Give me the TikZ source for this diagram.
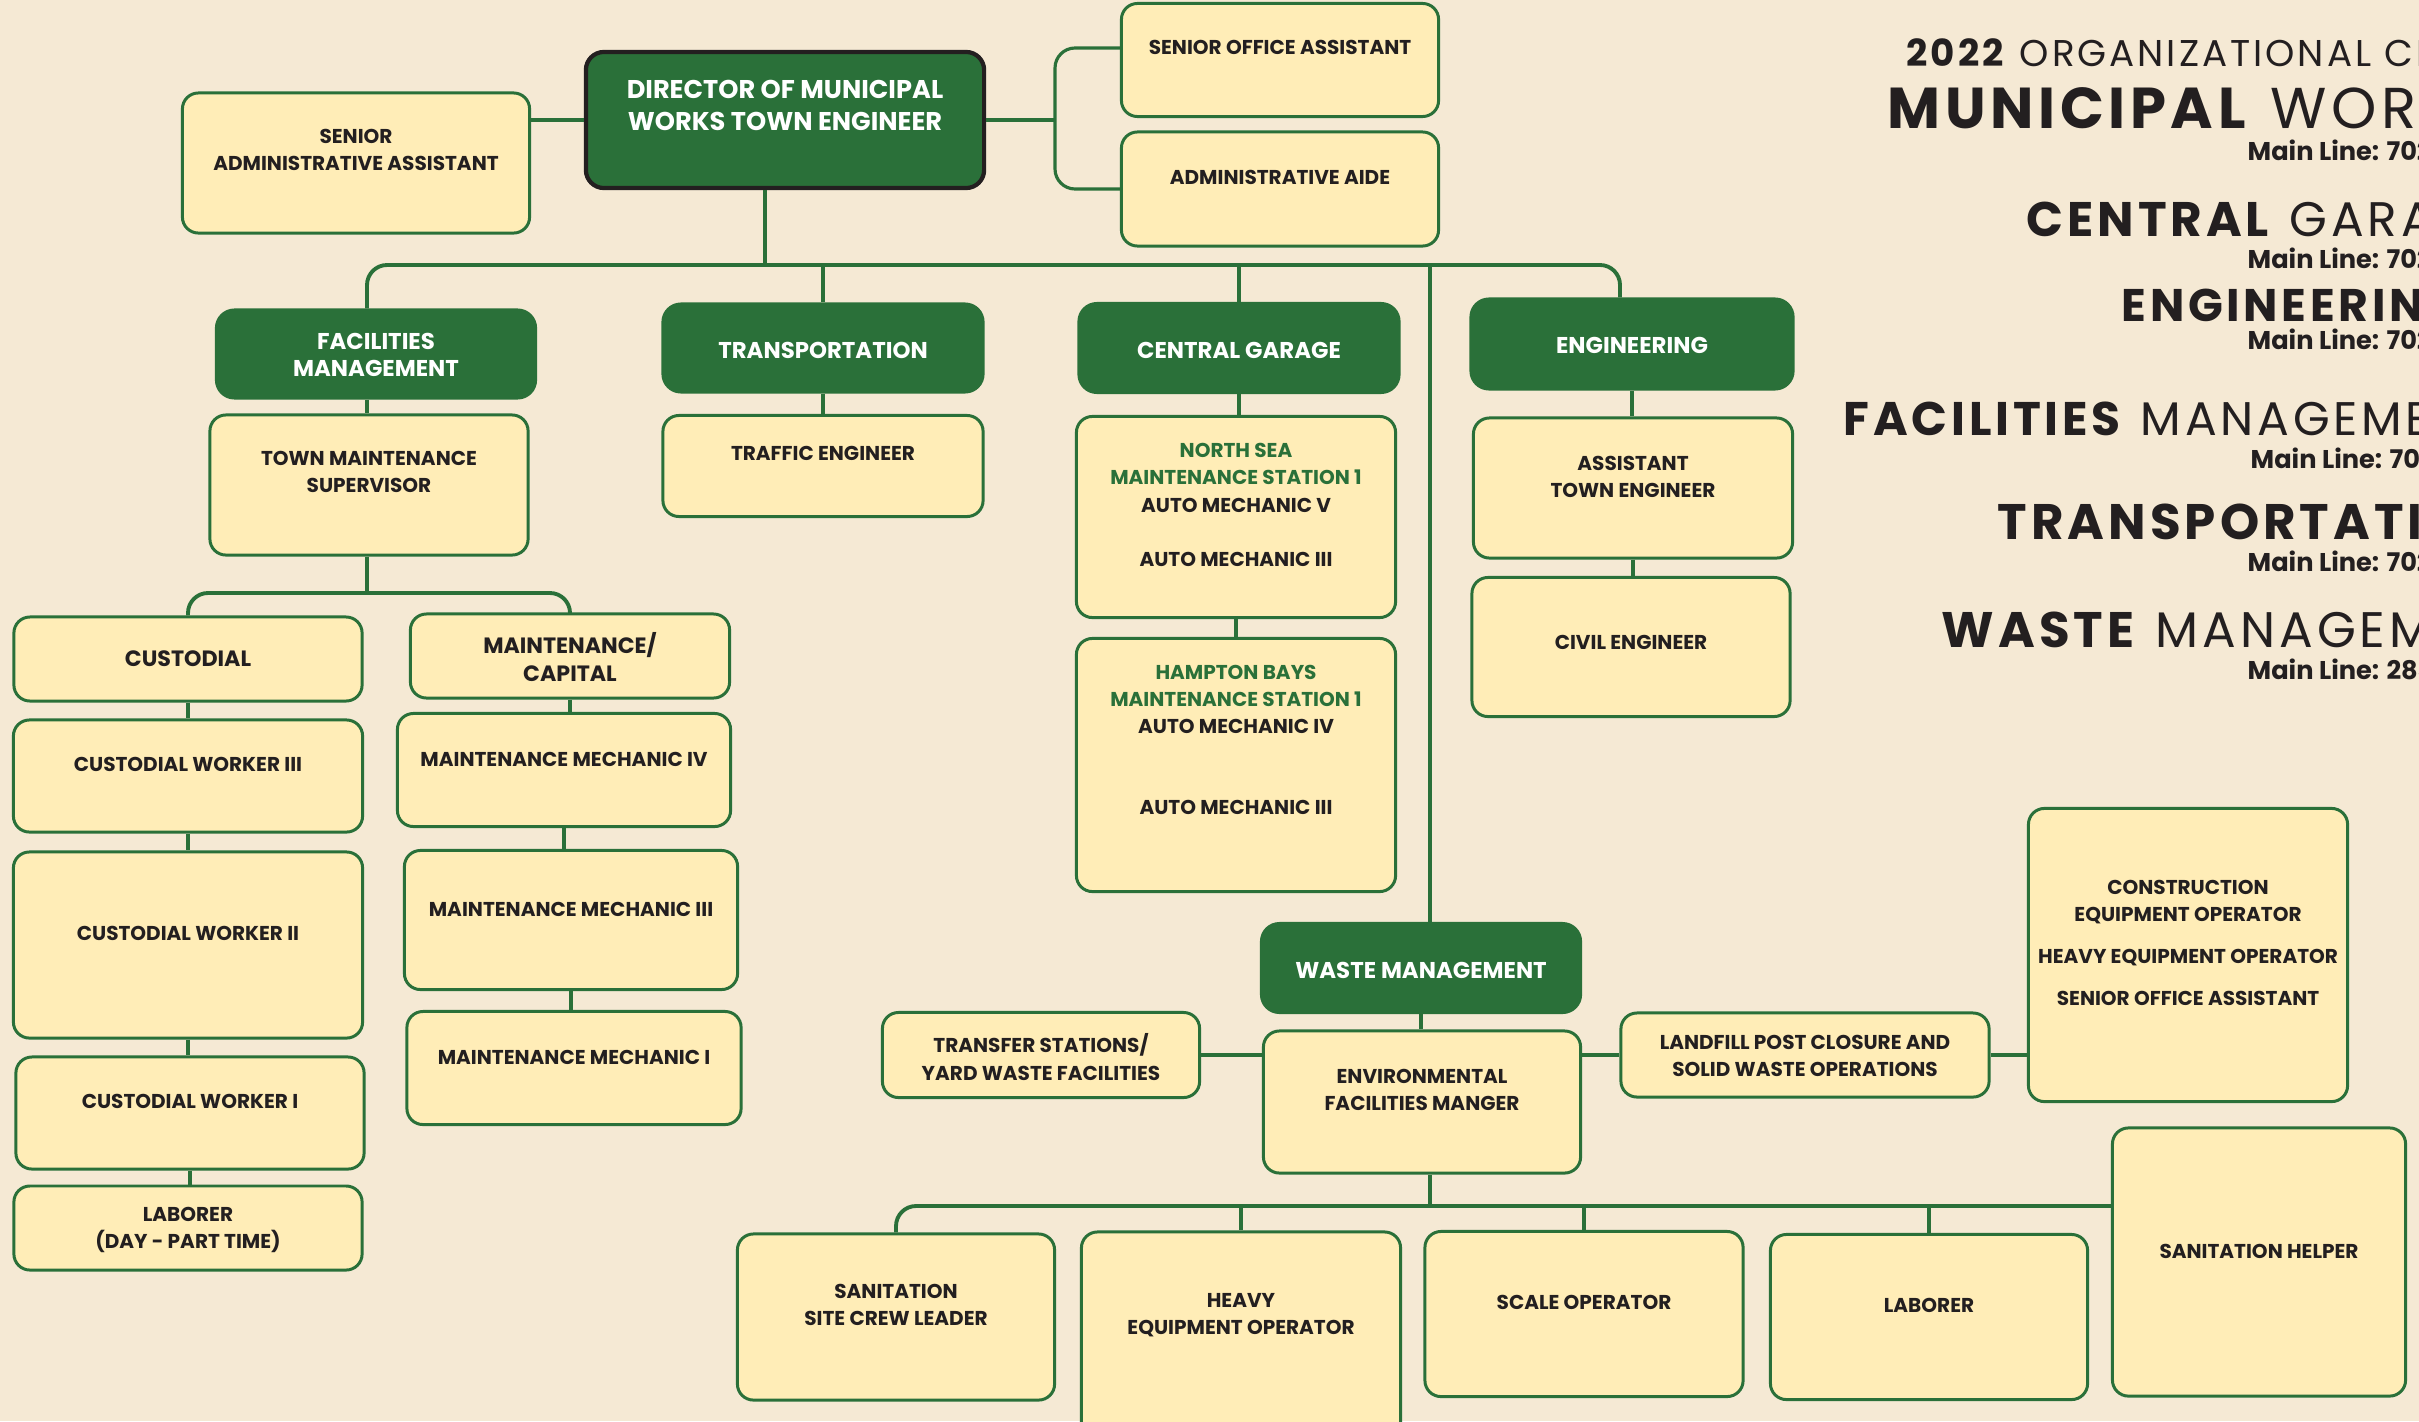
\documentclass[tikz,border=0pt]{standalone}
\usepackage{fontspec}
\setmainfont{Poppins}
\newfontfamily\titlefont[LetterSpace=8]{Poppins}
\definecolor{paper}{RGB}{245,233,212}
\definecolor{cream}{RGB}{255,237,183}
\definecolor{pine}{RGB}{42,112,57}
\definecolor{ink}{RGB}{35,31,32}
\tikzset{
  jobbox/.style={draw=pine, fill=cream, line width=0.85pt, rounded corners=0.16cm, inner sep=0pt},
  unitbox/.style={draw=pine, fill=pine, line width=0.85pt, rounded corners=0.18cm, inner sep=0pt},
  ptext/.style={align=center, inner sep=0pt, text=ink, font=\bfseries\fontsize{5.7}{7.7}\selectfont},
  utext/.style={align=center, inner sep=0pt, text=white, font=\bfseries\fontsize{6.5}{7.7}\selectfont},
  link/.style={draw=pine, line width=0.9pt},
  bus/.style={draw=pine, line width=1.1pt, rounded corners=0.2cm},
  headline/.style={anchor=base west, inner sep=0pt, text=ink},
  phone/.style={anchor=base west, inner sep=0pt, text=ink, font=\bfseries\fontsize{7.3}{9}\selectfont},
}
\begin{document}
\begin{tikzpicture}[x=0.01cm, y=-0.01cm]
\useasboundingbox (0,0) rectangle (2419,1421);
\clip (0,0) rectangle (2419,1421);
\fill[paper] (0,0) rectangle (2419,1421);

% director and office staff
\node[unitbox, draw=ink, line width=1.2pt, minimum width=3.98cm, minimum height=1.36cm] (dir) at (785,120) {};
\node[utext, font=\bfseries\fontsize{7.3}{9.1}\selectfont] (dir-t) at (785,105) {DIRECTOR OF MUNICIPAL\\WORKS TOWN ENGINEER};
\node[jobbox, minimum width=3.47cm, minimum height=1.40cm] (saa) at (356,163) {};
\node[ptext] (saa-t) at (356,150) {SENIOR\\ADMINISTRATIVE ASSISTANT};
\node[jobbox, minimum width=3.17cm, minimum height=1.13cm] (soa) at (1280,60) {};
\node[ptext] (soa-t) at (1280,47) {SENIOR OFFICE ASSISTANT};
\node[jobbox, minimum width=3.17cm, minimum height=1.14cm] (aa) at (1280,189) {};
\node[ptext] (aa-t) at (1280,177) {ADMINISTRATIVE AIDE};

% departments
\node[unitbox, minimum width=3.19cm, minimum height=0.88cm] (fm) at (376,354) {};
\node[utext] (fm-t) at (376,355) {FACILITIES\\MANAGEMENT};
\node[unitbox, minimum width=3.20cm, minimum height=0.88cm] (tr) at (823,348) {};
\node[utext] (tr-t) at (823,350) {TRANSPORTATION};
\node[unitbox, minimum width=3.20cm, minimum height=0.89cm] (cg) at (1239,348) {};
\node[utext] (cg-t) at (1239,350) {CENTRAL GARAGE};
\node[unitbox, minimum width=3.22cm, minimum height=0.90cm] (eng) at (1632,344) {};
\node[utext] (eng-t) at (1632,345) {ENGINEERING};
\node[unitbox, minimum width=3.19cm, minimum height=0.89cm] (wm) at (1421,968) {};
\node[utext] (wm-t) at (1421,970) {WASTE MANAGEMENT};

% facilities management
\node[jobbox, minimum width=3.18cm, minimum height=1.40cm] (tms) at (369,485) {};
\node[ptext] (tms-t) at (369,472) {TOWN MAINTENANCE\\SUPERVISOR};
\node[jobbox, minimum width=3.48cm, minimum height=0.84cm] (cus) at (188,659) {};
\node[ptext, font=\bfseries\fontsize{6.3}{7.7}\selectfont] (cus-t) at (188,659) {CUSTODIAL};
\node[jobbox, minimum width=3.19cm, minimum height=0.84cm] (mc) at (570,656) {};
\node[ptext, font=\bfseries\fontsize{6.3}{7.7}\selectfont] (mc-t) at (570,657) {MAINTENANCE/\\CAPITAL};
\node[jobbox, minimum width=3.49cm, minimum height=1.12cm] (cw3) at (188,776) {};
\node[ptext] (cw3-t) at (188,764) {CUSTODIAL WORKER III};
\node[jobbox, minimum width=3.49cm, minimum height=1.86cm] (cw2) at (188,945) {};
\node[ptext] (cw2-t) at (188,933) {CUSTODIAL WORKER II};
\node[jobbox, minimum width=3.48cm, minimum height=1.12cm] (cw1) at (190,1113) {};
\node[ptext] (cw1-t) at (190,1101) {CUSTODIAL WORKER I};
\node[jobbox, minimum width=3.48cm, minimum height=0.84cm] (lab1) at (188,1228) {};
\node[ptext] (lab1-t) at (188,1230) {LABORER\\(DAY - PART TIME)};
\node[jobbox, minimum width=3.33cm, minimum height=1.13cm] (mm4) at (564,770) {};
\node[ptext] (mm4-t) at (564,759) {MAINTENANCE MECHANIC IV};
\node[jobbox, minimum width=3.33cm, minimum height=1.39cm] (mm3) at (571,920) {};
\node[ptext] (mm3-t) at (571,909) {MAINTENANCE MECHANIC III};
\node[jobbox, minimum width=3.34cm, minimum height=1.13cm] (mm1) at (574,1068) {};
\node[ptext] (mm1-t) at (574,1057) {MAINTENANCE MECHANIC I};

% transportation, central garage, engineering
\node[jobbox, minimum width=3.20cm, minimum height=1.01cm] (te) at (823,466) {};
\node[ptext] (te-t) at (823,453) {TRAFFIC ENGINEER};
\node[jobbox, minimum width=3.19cm, minimum height=2.01cm] (ns) at (1236,517) {};
\node[ptext] (ns-t) at (1236,505) {\textcolor{pine}{NORTH SEA}\\\textcolor{pine}{MAINTENANCE STATION 1}\\AUTO MECHANIC V\\[7.7pt]AUTO MECHANIC III};
\node[jobbox, minimum width=3.19cm, minimum height=2.53cm] (hb) at (1236,765) {};
\node[ptext] (hb-t) at (1236,740) {\textcolor{pine}{HAMPTON BAYS}\\\textcolor{pine}{MAINTENANCE STATION 1}\\AUTO MECHANIC IV\\[15.4pt]AUTO MECHANIC III};
\node[jobbox, minimum width=3.19cm, minimum height=1.40cm] (ate) at (1633,488) {};
\node[ptext] (ate-t) at (1633,477) {ASSISTANT\\TOWN ENGINEER};
\node[jobbox, minimum width=3.18cm, minimum height=1.39cm] (ce) at (1631,647) {};
\node[ptext] (ce-t) at (1631,642) {CIVIL ENGINEER};

% waste management
\node[jobbox, minimum width=3.17cm, minimum height=1.42cm] (efm) at (1422,1102) {};
\node[ptext] (efm-t) at (1422,1090) {ENVIRONMENTAL\\FACILITIES MANGER};
\node[jobbox, minimum width=3.17cm, minimum height=0.85cm] (ts) at (1041,1055) {};
\node[ptext] (ts-t) at (1041,1057) {TRANSFER STATIONS/\\YARD WASTE FACILITIES};
\node[jobbox, minimum width=3.68cm, minimum height=0.84cm] (lf) at (1805,1055) {};
\node[ptext] (lf-t) at (1805,1056) {LANDFILL POST CLOSURE  AND\\SOLID WASTE OPERATIONS};
\node[jobbox, minimum width=3.19cm, minimum height=2.93cm] (ceo) at (2188,955) {};
\node[ptext] (ceo-t) at (2188,943) {CONSTRUCTION\\EQUIPMENT OPERATOR\\[4.3pt]HEAVY EQUIPMENT OPERATOR\\[4.3pt]SENIOR OFFICE ASSISTANT};
\node[jobbox, minimum width=2.93cm, minimum height=2.68cm] (sh) at (2259,1262) {};
\node[ptext] (sh-t) at (2259,1251) {SANITATION HELPER};
\node[jobbox, minimum width=3.17cm, minimum height=1.66cm] (sscl) at (896,1317) {};
\node[ptext] (sscl-t) at (896,1305) {SANITATION\\SITE CREW LEADER};
\node[jobbox, minimum width=3.19cm, minimum height=2.12cm] (heo) at (1241,1338) {};
\node[ptext] (heo-t) at (1241,1315) {HEAVY\\EQUIPMENT OPERATOR};
\node[jobbox, minimum width=3.18cm, minimum height=1.65cm] (so) at (1584,1314) {};
\node[ptext] (so-t) at (1584,1302) {SCALE OPERATOR};
\node[jobbox, minimum width=3.17cm, minimum height=1.65cm] (lab2) at (1929,1317) {};
\node[ptext] (lab2-t) at (1929,1305) {LABORER};

% connectors
\coordinate (dir-drop) at (765,265);
\coordinate (fm-drop) at (367,265);
\coordinate (eng-drop) at (1620,265);
\coordinate (wm-drop) at (1430,265);
\coordinate (dir-brk) at (1055,120);
\coordinate (fac-bus) at (367,593);
\coordinate (efm-bus) at (1430,1206);

\draw[link] (dir.west) -- (dir.west -| saa.east);
\draw[link] (dir.east) -- (dir-brk);
\draw[bus, line width=0.9pt] ([yshift=0.12cm]soa.west) -| (dir-brk) |- (aa.west);
\draw[link] (dir.south -| dir-drop) -- (dir-drop);
\draw[bus] (fm-drop |- fm.north) -- (fm-drop) -- (eng-drop) -- (eng-drop |- eng.north);
\draw[link] (tr.north |- dir-drop) -- (tr.north);
\draw[link] (cg.north |- dir-drop) -- (cg.north);
\draw[link] (wm-drop) -- (wm-drop |- wm.north);

\draw[link] (fm.south -| fac-bus) -- (tms.north -| fac-bus);
\draw[link] (tms.south -| fac-bus) -- (fac-bus);
\draw[bus] (cus.north) |- (fac-bus) -| (mc.north);
\foreach \a/\b in {cus/cw3, cw3/cw2, cw2/cw1, cw1/lab1, mc/mm4, mm4/mm3, mm3/mm1, tr/te, cg/ns, ns/hb, eng/ate, ate/ce, wm/efm}
  \draw[link] (\a.south) -- (\a.south |- \b.north);

\draw[link] (ts.east) -- (ts.east -| efm.west);
\draw[link] (efm.east |- lf.west) -- (lf.west);
\draw[link] (lf.east) -- (lf.east -| ceo.west);
\draw[link] (efm.south -| efm-bus) -- (efm-bus);
\draw[bus] (sscl.north) |- (efm-bus) -- (efm-bus -| sh.west);
\foreach \b in {heo, so, lab2}
  \draw[link] (efm-bus -| \b.north) -- (\b.north);

% titles
\node[headline, font=\titlefont\fontsize{10.6}{12}\selectfont] (title-year) at (1906,67) {\textbf{2022} ORGANIZATIONAL CHART};
\node[headline, font=\titlefont\fontsize{16.4}{20}\selectfont] (title-mw) at (1887,128) {\textbf{MUNICIPAL} WORKS};
\node[phone] (phone-mw) at (2247,160) {Main Line: 702};
\node[headline, font=\titlefont\fontsize{13.8}{16}\selectfont] (title-cg) at (2026,236) {\textbf{CENTRAL} GARAGE};
\node[phone] (phone-cg) at (2247,268) {Main Line: 702};
\node[headline, font=\titlefont\fontsize{13.0}{16}\selectfont] (title-eng) at (2121,321) {\textbf{ENGINEERING}};
\node[phone] (phone-eng) at (2247,349) {Main Line: 702};
\node[headline, font=\titlefont\fontsize{13.4}{16}\selectfont] (title-fm) at (1843,435) {\textbf{FACILITIES} MANAGEMENT};
\node[phone] (phone-fm) at (2250,468) {Main Line: 702};
\node[headline, font=\titlefont\fontsize{14.2}{16}\selectfont] (title-tr) at (1997,539) {\textbf{TRANSPORTATION}};
\node[phone] (phone-tr) at (2247,571) {Main Line: 702};
\node[headline, font=\titlefont\fontsize{14.2}{16}\selectfont] (title-wm) at (1941,647) {\textbf{WASTE} MANAGEMENT};
\node[phone] (phone-wm) at (2247,679) {Main Line: 283};
\end{tikzpicture}
\end{document}
